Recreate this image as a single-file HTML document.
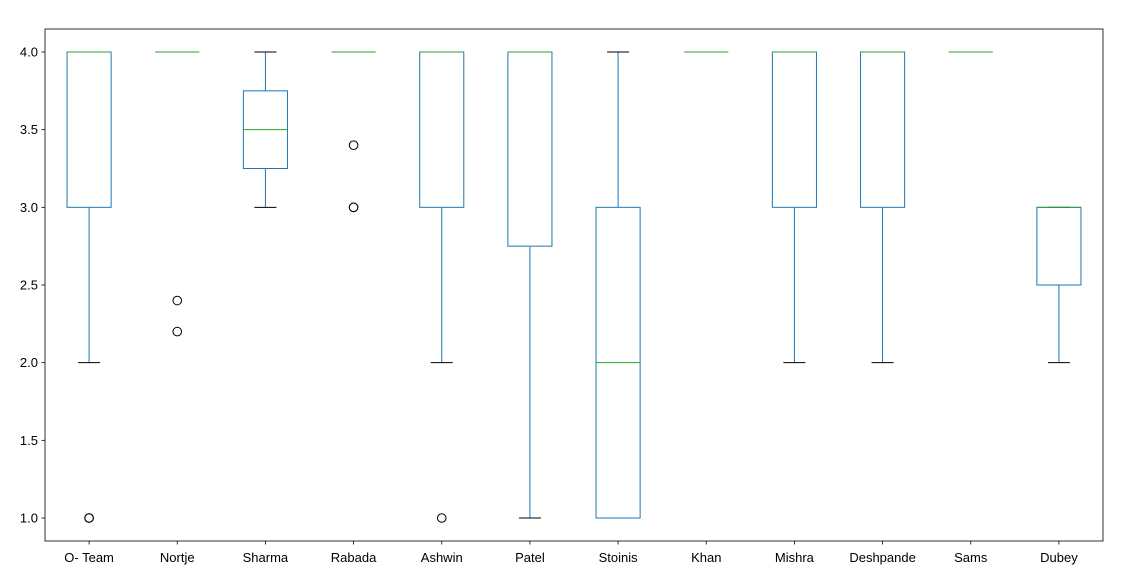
<!DOCTYPE html>
<html><head><meta charset="utf-8"><style>
body{margin:0;background:#fff;font-family:"Liberation Sans","DejaVu Sans",sans-serif}
svg text{font-family:"Liberation Sans","DejaVu Sans",sans-serif;font-size:13px;fill:#000}
</style></head><body>
<svg id="chart" width="1124" height="579" xmlns="http://www.w3.org/2000/svg"></svg>
<script>
const categories=["O- Team","Nortje","Sharma","Rabada","Ashwin","Patel","Stoinis","Khan","Mishra","Deshpande","Sams","Dubey"];
const q1=[3,4,3.25,4,3,2.75,1,4,3,3,4,2.5];
const medians=[4,4,3.5,4,4,4,2,4,4,4,4,3];
const q3=[4,4,3.75,4,4,4,3,4,4,4,4,3];
const whiskerLow=[2,4,3,4,2,1,1,4,2,2,4,2];
const whiskerHigh=[4,4,4,4,4,4,4,4,4,4,4,3];
const fliers=[[1,1],[2.4,2.2],[],[3.4,3,3],[1],[],[],[],[],[],[],[]];
const yTicks=[1.0,1.5,2.0,2.5,3.0,3.5,4.0];

const L=45,R=1103,T=29,B=541;
const step=(R-L)/categories.length;
const x=i=>L+step*(i+0.5);
const y=v=>518-(v-1)*(466/3);
const svg=document.getElementById('chart');
const NS='http://www.w3.org/2000/svg';
function mk(tag,attrs,parent){const e=document.createElementNS(NS,tag);for(const k in attrs)e.setAttribute(k,attrs[k]);(parent||svg).appendChild(e);return e;}

yTicks.forEach(t=>{
  const g=mk('g',{});
  
  
  mk('line',{x1:L-3.5,x2:L,y1:y(t),y2:y(t),stroke:'#000','stroke-width':0.8},g);
  const tx=mk('text',{x:L-7,y:y(t)+4.5,'text-anchor':'end'},g);
  tx.textContent=t.toFixed(1);
});
categories.forEach((c,i)=>{
  const g=mk('g',{});
  
  
  const cx=x(i),hw=step/4,cw=step/8;
  mk('line',{x1:cx,x2:cx,y1:y(whiskerLow[i]),y2:y(q1[i]),stroke:'#1f77b4','stroke-width':1},g);
  mk('line',{x1:cx,x2:cx,y1:y(q3[i]),y2:y(whiskerHigh[i]),stroke:'#1f77b4','stroke-width':1},g);
  mk('line',{x1:cx-cw,x2:cx+cw,y1:y(whiskerLow[i]),y2:y(whiskerLow[i]),stroke:'#000','stroke-width':1},g);
  mk('line',{x1:cx-cw,x2:cx+cw,y1:y(whiskerHigh[i]),y2:y(whiskerHigh[i]),stroke:'#000','stroke-width':1},g);
  mk('rect',{x:cx-hw,y:y(q3[i]),width:2*hw,height:Math.max(0,y(q1[i])-y(q3[i])),fill:'none',stroke:'#1f77b4','stroke-width':1},g);
  mk('line',{x1:cx-hw,x2:cx+hw,y1:y(medians[i]),y2:y(medians[i]),stroke:'#2ca02c','stroke-width':1},g);
  fliers[i].forEach(f=>{
    const p=mk('circle',{cx:cx,cy:y(f),r:4.3,fill:'none',stroke:'#000','stroke-width':1},g);
    
    
  });
  mk('line',{x1:cx,x2:cx,y1:B,y2:B+3.5,stroke:'#000','stroke-width':0.8});
  const tx=mk('text',{x:cx,y:B+21,'text-anchor':'middle'});
  
  
  tx.textContent=c;
});
const frame=mk('rect',{x:L,y:T,width:R-L,height:B-T,fill:'none',stroke:'#000','stroke-width':0.8});


</script>
</body></html>
